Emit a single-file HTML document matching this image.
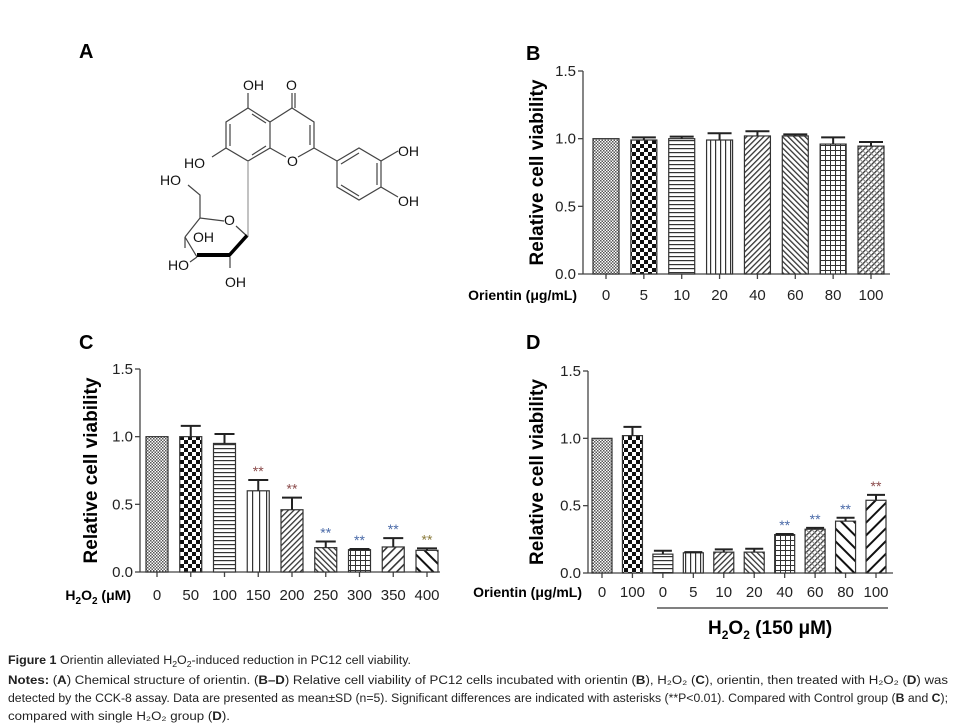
<!DOCTYPE html>
<html><head><meta charset="utf-8"><style>
body{margin:0;background:#fff}
svg{display:block;font-family:"Liberation Sans",Arial,sans-serif}
</style></head><body>
<svg id="s" width="957" height="728" viewBox="0 0 957 728">
<defs>
<pattern id="p0" width="3" height="3" patternUnits="userSpaceOnUse"><rect width="3" height="3" fill="#fff"/><rect width="1.5" height="1.5" fill="#555"/><rect x="1.5" y="1.5" width="1.5" height="1.5" fill="#555"/></pattern>
<pattern id="p1" width="8" height="8" patternUnits="userSpaceOnUse"><rect width="8" height="8" fill="#fff"/><rect width="4" height="4" fill="#111"/><rect x="4" y="4" width="4" height="4" fill="#111"/></pattern>
<pattern id="p2" width="4" height="4" patternUnits="userSpaceOnUse"><rect width="4" height="4" fill="#fff"/><rect width="4" height="1.2" fill="#333"/></pattern>
<pattern id="p3" width="5" height="5" patternUnits="userSpaceOnUse"><rect width="5" height="5" fill="#fff"/><rect width="1.2" height="5" fill="#333"/></pattern>
<pattern id="p3w" width="7" height="7" patternUnits="userSpaceOnUse"><rect width="7" height="7" fill="#fff"/><rect width="1.2" height="7" fill="#333"/></pattern>
<pattern id="p4" width="4" height="4" patternUnits="userSpaceOnUse" patternTransform="rotate(45)"><rect width="4" height="4" fill="#fff"/><rect width="1.3" height="4" fill="#333"/></pattern>
<pattern id="p5" width="4" height="4" patternUnits="userSpaceOnUse" patternTransform="rotate(-45)"><rect width="4" height="4" fill="#fff"/><rect width="1.3" height="4" fill="#333"/></pattern>
<pattern id="p6" width="5" height="5" patternUnits="userSpaceOnUse"><rect width="5" height="5" fill="#fff"/><rect width="5" height="1" fill="#333"/><rect width="1" height="5" fill="#333"/></pattern>
<pattern id="p7" width="4" height="4" patternUnits="userSpaceOnUse" patternTransform="rotate(45)"><rect width="4" height="4" fill="#fff"/><rect width="1.3" height="4" fill="#333"/><rect width="4" height="1" fill="#888"/></pattern>
<pattern id="p8" width="6" height="6" patternUnits="userSpaceOnUse" patternTransform="rotate(45)"><rect width="6" height="6" fill="#fff"/><rect width="1.6" height="6" fill="#333"/></pattern>
<pattern id="p9" width="9" height="9" patternUnits="userSpaceOnUse" patternTransform="rotate(-45)"><rect width="9" height="9" fill="#fff"/><rect width="2" height="9" fill="#111"/></pattern>
<pattern id="p10" width="9" height="9" patternUnits="userSpaceOnUse" patternTransform="rotate(45)"><rect width="9" height="9" fill="#fff"/><rect width="2" height="9" fill="#111"/></pattern>
</defs>

<g stroke="#444" stroke-width="1.2" fill="none">
<path d="M248,108 L270,122 L270,148 L248,161 L226,148 L226,122 Z"/>
<path d="M252,114 L266,123 M266,146 L252,155 M230,146 L230,124"/>
<path d="M270,122 L292,108 L314,122 L314,148 L298,157 M286,157 L270,148"/>
<path d="M310,125 L310,145 M292,108 L292,93 M295,108 L295,93 M248,108 L248,93 M226,148 L212,157"/>
<path d="M314,148 L337,161"/>
<path d="M337,161 L359,148 L381,161 L381,187 L359,200 L337,187 Z M341,164 L359,153 M377,163 L377,185 M341,185 L359,196"/>
<path d="M381,161 L398,151 M381,187 L398,197"/>
<path d="M248,161 L248,237" stroke="#999"/>
<path d="M248,237 L236,226 M224,221 L200,218 L185,237 M200,218 L200,195 L188,185"/>
<path d="M185,237 L185,248 M185,237 L197,257 M197,257 L190,262 M230,257 L230,268"/>
</g>
<path d="M197,257 L230,257 L248,237 L246,234 L229,253 L197,253 Z" fill="#000"/>
<g font-size="14" fill="#111">
<text x="243" y="90">OH</text><text x="286" y="90">O</text>
<text x="184" y="168">HO</text><text x="287" y="166">O</text>
<text x="398" y="156">OH</text><text x="398" y="206">OH</text>
<text x="160" y="185">HO</text><text x="224" y="225">O</text>
<text x="193" y="242">OH</text><text x="168" y="270">HO</text><text x="225" y="287">OH</text>
</g>

<g font-weight="bold" font-size="20" fill="#000">
<text x="79" y="58">A</text><text x="526" y="60">B</text><text x="79" y="349">C</text><text x="526" y="349">D</text>
</g>

<g id="charts"></g>

<g>
<line x1="657" y1="608" x2="888" y2="608" stroke="#000" stroke-width="1"/>
<text x="708" y="634" font-size="19" font-weight="bold">H<tspan font-size="12" dy="5">2</tspan><tspan dy="-5">O</tspan><tspan font-size="12" dy="5">2</tspan><tspan dy="-5"> (150 μM)</tspan></text>
</g>

<g font-size="11.5" fill="#222">
<text x="8" y="664" textLength="403" lengthAdjust="spacingAndGlyphs"><tspan font-weight="bold">Figure 1</tspan> Orientin alleviated H<tspan font-size="8" dy="3">2</tspan><tspan dy="-3">O</tspan><tspan font-size="8" dy="3">2</tspan><tspan dy="-3">-induced reduction in PC12 cell viability.</tspan></text>
<text x="8" y="684" textLength="940" lengthAdjust="spacingAndGlyphs"><tspan font-weight="bold">Notes:</tspan> (<tspan font-weight="bold">A</tspan>) Chemical structure of orientin. (<tspan font-weight="bold">B–D</tspan>) Relative cell viability of PC12 cells incubated with orientin (<tspan font-weight="bold">B</tspan>), H₂O₂ (<tspan font-weight="bold">C</tspan>), orientin, then treated with H₂O₂ (<tspan font-weight="bold">D</tspan>) was</text>
<text x="8" y="702" textLength="940" lengthAdjust="spacingAndGlyphs">detected by the CCK-8 assay. Data are presented as mean±SD (n=5). Significant differences are indicated with asterisks (**P&lt;0.01). Compared with Control group (<tspan font-weight="bold">B</tspan> and <tspan font-weight="bold">C</tspan>);</text>
<text x="8" y="720" textLength="222" lengthAdjust="spacingAndGlyphs">compared with single H₂O₂ group (<tspan font-weight="bold">D</tspan>).</text>
</g>
</svg>
<script>
const catsB=["0","5","10","20","40","60","80","100"];
const valsB=[1.0,0.99,1.0,0.99,1.02,1.02,0.96,0.945];
const errB=[0,0.02,0.015,0.05,0.035,0.012,0.05,0.03];
const patsB=["p0","p1","p2","p3","p4","p5","p6","p7"];
const sigB=["","","","","","","",""];
const catsC=["0","50","100","150","200","250","300","350","400"];
const valsC=[1.0,1.0,0.95,0.60,0.46,0.18,0.165,0.185,0.16];
const errC=[0,0.08,0.07,0.08,0.09,0.045,0.005,0.065,0.015];
const patsC=["p0","p1","p2","p3w","p4","p5","p6","p8","p9"];
const sigC=["","","","**","**","**","**","**","**"];
const sigColC=["","","","#8a4a4a","#8a4a4a","#4a6aa8","#4a6aa8","#4a6aa8","#8a7a3a"];
const catsD=["0","100","0","5","10","20","40","60","80","100"];
const valsD=[1.0,1.02,0.14,0.15,0.155,0.155,0.285,0.325,0.385,0.54];
const errD=[0,0.065,0.025,0.005,0.02,0.025,0.005,0.01,0.025,0.04];
const patsD=["p0","p1","p2","p3","p4","p5","p6","p7","p9","p10"];
const sigD=["","","","","","","**","**","**","**"];
const sigColD=["","","","","","","#4a6aa8","#4a6aa8","#4a6aa8","#8a4a4a"];
const yTicks=[0,0.5,1.0,1.5];
const yTickLabels=["0.0","0.5","1.0","1.5"];

const NS="http://www.w3.org/2000/svg";
const root=document.getElementById('charts');
function mk(tag,attrs,parent){const e=document.createElementNS(NS,tag);for(const k in attrs)e.setAttribute(k,attrs[k]);parent.appendChild(e);return e;}

function chart(cfg,cats,vals,errs,pats,sigs,sigCols){
  const g=mk('g',{},root);
  
  
  const y=v=>cfg.y0-(v/1.5)*(cfg.y0-cfg.y15);
  const x=i=>cfg.c0+i*(cfg.cN-cfg.c0)/(cats.length-1);
  const ya=mk('line',{x1:cfg.ax,y1:cfg.y15,x2:cfg.ax,y2:cfg.y0,stroke:'#444','stroke-width':1.3},g);
  
  
  const xa=mk('line',{x1:cfg.ax,y1:cfg.y0,x2:cfg.xe,y2:cfg.y0,stroke:'#444','stroke-width':1.3},g);
  
  
  yTicks.forEach((t,i)=>{
    mk('line',{x1:cfg.ax-5,x2:cfg.ax,y1:y(t),y2:y(t),stroke:'#444','stroke-width':1.3},g);
    const tl=mk('text',{x:cfg.ax-7,y:y(t)+5,'text-anchor':'end','font-size':15,fill:'#222'},g);
    tl.textContent=yTickLabels[i];
    
    
  });
  cats.forEach((c,i)=>{
    const cx=x(i);
    mk('line',{x1:cx,x2:cx,y1:cfg.y0,y2:cfg.y0+5,stroke:'#444','stroke-width':1.3},g);
    const r=mk('rect',{x:cx-cfg.bw/2,y:y(vals[i]),width:cfg.bw,height:y(0)-y(vals[i]),fill:'url(#'+pats[i]+')',stroke:'#333','stroke-width':1.2},g);
    
    
    if(errs[i]>0){
      const top=y(vals[i]+errs[i]);
      mk('path',{d:`M${cx},${y(vals[i])} L${cx},${top} M${cx-cfg.bw/2+1},${top} L${cx+cfg.bw/2-1},${top}`,stroke:'#222','stroke-width':2,fill:'none'},g);
    }
    if(sigs[i]){
      const st=mk('text',{x:cx,y:y(vals[i]+errs[i])-4,'text-anchor':'middle','font-size':14,fill:sigCols[i]},g);
      st.textContent=sigs[i];
      
      
    }
    const tl=mk('text',{x:cx,y:cfg.ly,'text-anchor':'middle','font-size':15,fill:'#222'},g);
    tl.textContent=c;
    
    
  });
  const yt=mk('text',{x:0,y:0,transform:`translate(${cfg.tx},${(cfg.y0+cfg.y15)/2}) rotate(-90)`,'text-anchor':'middle','font-size':19,'font-weight':'bold',fill:'#000'},g);
  yt.textContent='Relative cell viability';
  
  
  const xt=mk('text',{x:cfg.xtx,y:cfg.ly,'text-anchor':'end','font-size':14,'font-weight':'bold',fill:'#000'},g);
  
  
  xt.innerHTML=cfg.xtitle;
}
chart({name:'chart-b',ax:583,y0:274,y15:71,c0:606,cN:871,bw:26,xe:890,ly:300,tx:543,xtx:577,xtitle:'Orientin (μg/mL)'},catsB,valsB,errB,patsB,sigB,sigB);
chart({name:'chart-c',ax:140,y0:572,y15:369,c0:157,cN:427,bw:22,xe:440,ly:600,tx:97,xtx:131,xtitle:'H<tspan font-size="10" dy="4">2</tspan><tspan dy="-4">O</tspan><tspan font-size="10" dy="4">2</tspan><tspan dy="-4"> (μM)</tspan>'},catsC,valsC,errC,patsC,sigC,sigColC);
chart({name:'chart-d',ax:588,y0:573,y15:371,c0:602,cN:876,bw:20,xe:893,ly:597,tx:543,xtx:582,xtitle:'Orientin (μg/mL)'},catsD,valsD,errD,patsD,sigD,sigColD);
</script>
</body></html>
